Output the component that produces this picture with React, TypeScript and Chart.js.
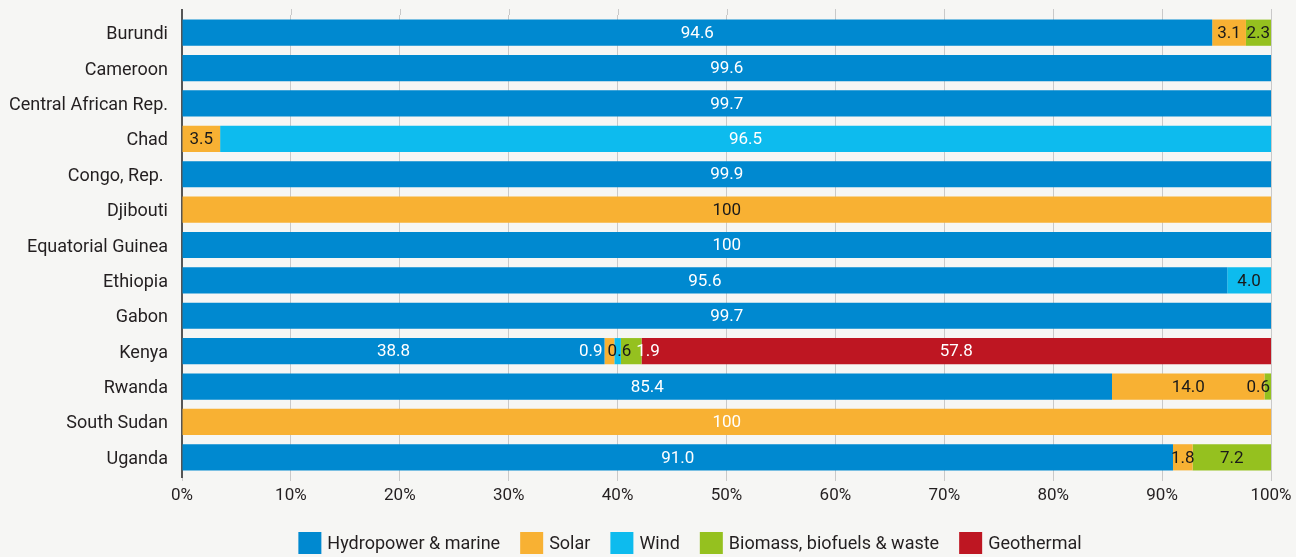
import React, { useEffect, useRef } from "react";
import { Chart, registerables } from "chart.js";

Chart.register(...registerables);

const categories = [
  "Burundi",
  "Cameroon",
  "Central African Rep.",
  "Chad",
  "Congo, Rep. ",
  "Djibouti",
  "Equatorial Guinea",
  "Ethiopia",
  "Gabon",
  "Kenya",
  "Rwanda",
  "South Sudan",
  "Uganda",
];

const hydro = [94.6, 99.6, 99.7, 0, 99.9, 0, 100, 95.6, 99.7, 38.8, 85.4, 0, 91.0];
const solar = [3.1, 0, 0, 3.5, 0, 100, 0, 0, 0, 0.9, 14.0, 100, 1.8];
const wind = [0, 0, 0, 96.5, 0, 0, 0, 4.0, 0, 0.6, 0, 0, 0];
const biomass = [2.3, 0, 0, 0, 0, 0, 0, 0, 0, 1.9, 0.6, 0, 7.2];
const geothermal = [0, 0, 0, 0, 0, 0, 0, 0, 0, 57.8, 0, 0, 0];

const xTicks = [0, 10, 20, 30, 40, 50, 60, 70, 80, 90, 100];

const seriesNames = [
  "Hydropower & marine",
  "Solar",
  "Wind",
  "Biomass, biofuels & waste",
  "Geothermal",
];
const seriesValues = [hydro, solar, wind, biomass, geothermal];

// styles (kept apart from the data)
const COLORS = ["#0089d0", "#f8b133", "#0dbbee", "#95c11f", "#be1622"];
const LABEL_COLORS = ["#ffffff", "#1a1a1a", "#ffffff", "#1a1a1a", "#ffffff"];
const LABEL_COLOR_OVERRIDES: Record<string, string> = {
  "Ethiopia|2": "#1a1a1a",
  "South Sudan|1": "#ffffff",
  "Kenya|1": "#ffffff",
  "Kenya|2": "#1a1a1a",
  "Kenya|3": "#ffffff",
};
const FONT = "Roboto, 'Noto Sans', sans-serif";
const TEXT = "#231f20";
const BG = "#f6f6f4";
const GRID = "#c9c9c9";

const rowTotals = categories.map((_, i) =>
  seriesValues.reduce((s, arr) => s + arr[i], 0)
);

const fmt = (v: number) => (v === 100 ? "100" : v.toFixed(1));

const labelPlugin = {
  id: "segLabels",
  afterDatasetsDraw(chart: any) {
    const ctx = chart.ctx;
    const right = chart.chartArea.right;
    ctx.save();
    ctx.font = `17px ${FONT}`;
    ctx.textAlign = "center";
    ctx.textBaseline = "middle";
    const gap = 5;
    categories.forEach((cat, i) => {
      const items: any[] = [];
      seriesValues.forEach((arr, d) => {
        const v = arr[i];
        if (!v) return;
        const el = chart.getDatasetMeta(d).data[i];
        const text = fmt(v);
        const w = ctx.measureText(text).width;
        const c = (el.x + el.base) / 2;
        const color = LABEL_COLOR_OVERRIDES[cat.trim() + "|" + d] || LABEL_COLORS[d];
        items.push({ text, w, c, y: el.y, color });
      });
      const clusters: any[] = [];
      items.forEach((it) => {
        let cl = { items: [it], W: it.w, sumC: it.c, start: it.c - it.w / 2 };
        while (clusters.length) {
          const prev = clusters[clusters.length - 1];
          if (prev.start + prev.W + gap <= cl.start) break;
          clusters.pop();
          const merged = {
            items: prev.items.concat(cl.items),
            W: prev.W + gap + cl.W,
            sumC: prev.sumC + cl.sumC,
            start: 0,
          };
          merged.start = merged.sumC / merged.items.length - merged.W / 2;
          cl = merged;
        }
        clusters.push(cl);
      });
      // keep labels inside the plot on the right
      let limit = right - 1;
      for (let k = clusters.length - 1; k >= 0; k--) {
        const cl = clusters[k];
        if (cl.start + cl.W > limit) cl.start = limit - cl.W;
        limit = cl.start - gap;
      }
      clusters.forEach((cl) => {
        let x = cl.start;
        cl.items.forEach((it: any) => {
          ctx.fillStyle = it.color;
          ctx.fillText(it.text, x + it.w / 2, it.y + 1);
          x += it.w + gap;
        });
      });
    });
    ctx.restore();
  },
};

const gridExtPlugin = {
  id: "gridExt",
  beforeDatasetsDraw(chart: any) {
    const ctx = chart.ctx;
    const xs = chart.scales.x;
    const top = chart.chartArea.top;
    ctx.save();
    ctx.lineWidth = 1;
    ctx.strokeStyle = GRID;
    xTicks.forEach((v) => {
      const x = Math.round(xs.getPixelForValue(v)) + 0.5;
      ctx.beginPath();
      ctx.moveTo(x, top - 6);
      ctx.lineTo(x, top);
      ctx.stroke();
    });
    const x0 = xs.getPixelForValue(0);
    ctx.strokeStyle = "#555555";
    ctx.lineWidth = 2;
    ctx.beginPath();
    ctx.moveTo(x0, top - 6);
    ctx.lineTo(x0, top);
    ctx.moveTo(x0, chart.chartArea.bottom);
    ctx.lineTo(x0, chart.chartArea.bottom + 3);
    ctx.stroke();
    ctx.restore();
  },
};

const legendPlugin = {
  id: "customLegend",
  afterDraw(chart: any) {
    const ctx = chart.ctx;
    ctx.save();
    ctx.font = `18px ${FONT}`;
    ctx.textBaseline = "middle";
    ctx.textAlign = "left";
    const box = 23;
    const boxH = 22;
    const textGap = 6;
    const itemGap = 20;
    const widths = seriesNames.map((n) => box + textGap + ctx.measureText(n).width);
    const total = widths.reduce((a, b) => a + b, 0) + itemGap * (widths.length - 1);
    const center = 690;
    let x = center - total / 2;
    const top = 532;
    seriesNames.forEach((n, d) => {
      ctx.fillStyle = COLORS[d];
      ctx.fillRect(x, top, box, boxH);
      ctx.fillStyle = TEXT;
      ctx.fillText(n, x + box + textGap, top + boxH / 2 + 1);
      x += widths[d] + itemGap;
    });
    ctx.restore();
  },
};

const bgPlugin = {
  id: "bg",
  beforeDraw(chart: any) {
    const ctx = chart.ctx;
    ctx.save();
    ctx.fillStyle = BG;
    ctx.fillRect(0, 0, chart.width, chart.height);
    ctx.restore();
  },
};

export default function App() {
  const ref = useRef<HTMLCanvasElement | null>(null);
  useEffect(() => {
    if (!ref.current) return;
    const chart = new Chart(ref.current, {
      type: "bar",
      data: {
        labels: categories,
        datasets: seriesNames.map((name, d) => ({
          label: name,
          data: seriesValues[d].map((v, i) => (v / rowTotals[i]) * 100),
          backgroundColor: COLORS[d],
          borderWidth: 0,
          barPercentage: 0.74,
          categoryPercentage: 1,
        })),
      },
      options: {
        indexAxis: "y",
        animation: false,
        responsive: false,
        devicePixelRatio: 1,
        layout: { padding: { top: 15, right: 25, left: 0, bottom: 0 } },
        plugins: {
          legend: { display: false },
          tooltip: { enabled: false },
        },
        scales: {
          x: {
            stacked: true,
            min: 0,
            max: 100,
            afterFit(scale: any) {
              scale.height = 82;
              scale.paddingLeft = 0;
              scale.paddingRight = 0;
            },
            afterBuildTicks(scale: any) {
              scale.ticks = xTicks.map((v) => ({ value: v }));
            },
            ticks: {
              callback: (v: any) => v + "%",
              color: TEXT,
              font: { family: FONT, size: 17 },
              padding: 5,
              maxRotation: 0,
            },
            grid: { color: GRID, tickLength: 6, lineWidth: 1 },
            border: { display: false },
          },
          y: {
            stacked: true,
            afterFit(scale: any) {
              scale.width = 182;
              scale.paddingTop = 0;
              scale.paddingBottom = 0;
            },
            ticks: {
              color: TEXT,
              font: { family: FONT, size: 18 },
              padding: 14,
              labelOffset: 2,
              autoSkip: false,
            },
            grid: { display: false, drawTicks: false },
            border: { display: true, color: "#555555", width: 2 },
          },
        },
      },
      plugins: [bgPlugin, gridExtPlugin, labelPlugin, legendPlugin],
    });
    return () => chart.destroy();
  }, []);
  return (
    <div style={{ position: "fixed", left: 0, top: 0, width: 1296, height: 557, background: BG }}>
      <canvas ref={ref} width={1296} height={557} />
    </div>
  );
}
